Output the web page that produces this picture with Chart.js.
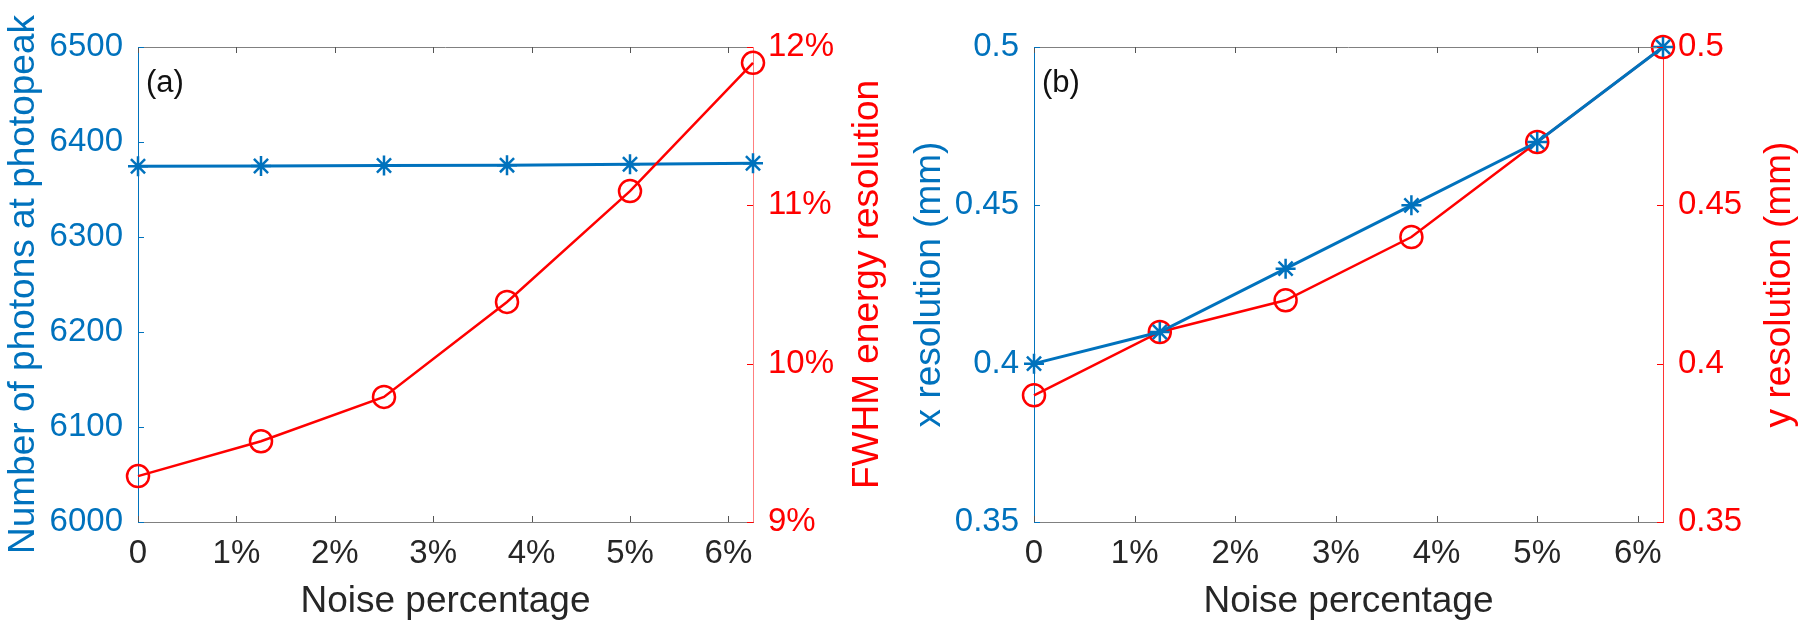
<!DOCTYPE html>
<html>
<head>
<meta charset="utf-8">
<script src="https://cdn.jsdelivr.net/npm/chart.js@4.4.0/dist/chart.umd.min.js"></script>
<style>
  body { margin: 0; background: #fff; }
  .wrap { position: relative; width: 1800px; height: 634px; }
  canvas { position: absolute; top: 0; }
</style>
</head>
<body>
<div class="wrap">
  <canvas id="chart-a" width="900" height="634" style="left:0"></canvas>
  <canvas id="chart-b" width="900" height="634" style="left:900px"></canvas>
</div>
<script>
// Noise levels (%)
const noise = [0, 1.25, 2.5, 3.75, 5, 6.25];

// Panel (a)
const photons = [6374.5, 6374.7, 6375.3, 6375.6, 6376.6, 6377.6];
const fwhm = [9.29, 9.51, 9.79, 10.39, 11.09, 11.90];

// Panel (b)
const xRes = [0.40, 0.41, 0.43, 0.45, 0.47, 0.50];
const yRes = [0.39, 0.41, 0.42, 0.44, 0.47, 0.50];

const BLUE = '#0072BD';
const RED = '#FF0000';
const DARK = '#262626';
const FONT = "'Liberation Sans', Arial, sans-serif";

function pts(xs, ys) {
    return xs.map((x, i) => ({x: x, y: ys[i]}));
}

// Box, inward ticks, panel letter and right-side title (MATLAB style)
const framePlugin = {
    id: 'frame',
    afterDraw(chart, args, opts) {
        const {ctx, chartArea: a, scales} = chart;
        ctx.save();
        ctx.lineWidth = 1;

        // top border
        ctx.strokeStyle = '#808080';
        ctx.beginPath();
        ctx.moveTo(a.left, a.top + 0.5);
        ctx.lineTo(a.right, a.top + 0.5);
        ctx.stroke();

        // x ticks (bottom + top, pointing inward)
        ctx.strokeStyle = '#555';
        scales.x.ticks.forEach(t => {
            const px = Math.round(scales.x.getPixelForValue(t.value)) + 0.5;
            ctx.beginPath();
            ctx.moveTo(px, a.bottom);
            ctx.lineTo(px, a.bottom - 6);
            ctx.moveTo(px, a.top);
            ctx.lineTo(px, a.top + 6);
            ctx.stroke();
        });

        // left ticks
        ctx.strokeStyle = BLUE;
        scales.y.ticks.forEach(t => {
            const py = Math.round(scales.y.getPixelForValue(t.value)) + 0.5;
            ctx.beginPath();
            ctx.moveTo(a.left, py);
            ctx.lineTo(a.left + 6, py);
            ctx.stroke();
        });

        // right ticks
        ctx.strokeStyle = RED;
        scales.y2.ticks.forEach(t => {
            const py = Math.round(scales.y2.getPixelForValue(t.value)) + 0.5;
            ctx.beginPath();
            ctx.moveTo(a.right, py);
            ctx.lineTo(a.right - 6, py);
            ctx.stroke();
        });

        // panel letter
        ctx.fillStyle = '#111';
        ctx.font = '31px ' + FONT;
        ctx.textBaseline = 'middle';
        ctx.textAlign = 'left';
        ctx.fillText(opts.label, a.left + 8, a.top + 36);

        // right axis title, reading bottom to top
        ctx.translate(opts.titleX, (a.top + a.bottom) / 2);
        ctx.rotate(-Math.PI / 2);
        ctx.textAlign = 'center';
        ctx.fillStyle = RED;
        ctx.font = '37px ' + FONT;
        ctx.fillText(opts.title, 0, 0);
        ctx.restore();
    }
};

function makeChart(id, cfg) {
    const ctx = document.getElementById(id).getContext('2d');
    return new Chart(ctx, {
        type: 'line',
        data: {
            datasets: [{
                label: cfg.leftTitle,
                data: pts(noise, cfg.left),
                yAxisID: 'y',
                borderColor: BLUE,
                borderWidth: 3,
                pointStyle: 'star',
                pointRadius: 10,
                pointBorderWidth: 2.5,
                pointBorderColor: BLUE,
                pointBackgroundColor: BLUE,
                clip: false,
                order: cfg.blueOrder
            }, {
                label: cfg.rightTitle,
                data: pts(noise, cfg.right),
                yAxisID: 'y2',
                borderColor: RED,
                borderWidth: 2.5,
                pointStyle: 'circle',
                pointRadius: 11,
                pointBorderWidth: 2.5,
                pointBorderColor: RED,
                pointBackgroundColor: 'rgba(0,0,0,0)',
                clip: false,
                order: cfg.redOrder
            }]
        },
        options: {
            responsive: false,
            animation: false,
            layout: {autoPadding: false, padding: {top: 47, left: 0, right: 0, bottom: 0}},
            plugins: {
                legend: {display: false},
                tooltip: {enabled: false},
                frame: {label: cfg.label, title: cfg.rightTitle, titleX: cfg.rightTitleX}
            },
            scales: {
                x: {
                    type: 'linear',
                    min: 0,
                    max: 6.25,
                    afterFit: s => { s.height = 112; },
                    grid: {display: false, drawTicks: false},
                    border: {display: true, color: '#808080', width: 1},
                    ticks: {
                        stepSize: 1,
                        includeBounds: false,
                        color: DARK,
                        padding: 12,
                        maxRotation: 0,
                        font: {family: FONT, size: 33},
                        callback: v => v === 0 ? '0' : v + '%'
                    },
                    title: {
                        display: true,
                        text: 'Noise percentage',
                        color: DARK,
                        padding: {top: 0, bottom: 10},
                        font: {family: FONT, size: 37}
                    }
                },
                y: {
                    position: 'left',
                    min: cfg.leftMin,
                    max: cfg.leftMax,
                    afterFit: s => { s.width = cfg.leftWidth; },
                    grid: {display: false, drawTicks: false},
                    border: {display: true, color: BLUE, width: 1},
                    ticks: {
                        stepSize: cfg.leftStep,
                        color: BLUE,
                        padding: 15,
                        font: {family: FONT, size: 33},
                        callback: cfg.leftFmt
                    },
                    title: {
                        display: true,
                        text: cfg.leftTitle,
                        color: BLUE,
                        padding: {top: cfg.leftTitlePad, bottom: 0},
                        font: {family: FONT, size: 37}
                    }
                },
                y2: {
                    position: 'right',
                    min: cfg.rightMin,
                    max: cfg.rightMax,
                    afterFit: s => { s.width = cfg.rightWidth; },
                    grid: {display: false, drawTicks: false},
                    border: {display: true, color: cfg.rightBorder, width: 1},
                    ticks: {
                        stepSize: cfg.rightStep,
                        color: RED,
                        padding: 15,
                        font: {family: FONT, size: 33},
                        callback: cfg.rightFmt
                    }
                }
            }
        },
        plugins: [framePlugin]
    });
}

const decFmt = v => String(+v.toFixed(2));

makeChart('chart-a', {
    label: '(a)',
    left: photons,
    right: fwhm,
    leftTitle: 'Number of photons at photopeak',
    rightTitle: 'FWHM energy resolution',
    leftMin: 6000, leftMax: 6500, leftStep: 100,
    rightMin: 9, rightMax: 12, rightStep: 1,
    leftFmt: v => String(v),
    rightFmt: v => +v.toFixed(0) + '%',
    leftWidth: 138, rightWidth: 147,
    leftTitlePad: 2,
    rightTitleX: 868,
    rightBorder: 'rgba(255,0,0,0.5)',
    blueOrder: 2, redOrder: 1
});

makeChart('chart-b', {
    label: '(b)',
    left: xRes,
    right: yRes,
    leftTitle: 'x resolution (mm)',
    rightTitle: 'y resolution (mm)',
    leftMin: 0.35, leftMax: 0.5, leftStep: 0.05,
    rightMin: 0.35, rightMax: 0.5, rightStep: 0.05,
    leftFmt: decFmt,
    rightFmt: decFmt,
    leftWidth: 134, rightWidth: 137,
    leftTitlePad: 8,
    rightTitleX: 880,
    rightBorder: 'rgba(255,0,0,0.8)',
    blueOrder: 1, redOrder: 2
});
</script>
</body>
</html>
